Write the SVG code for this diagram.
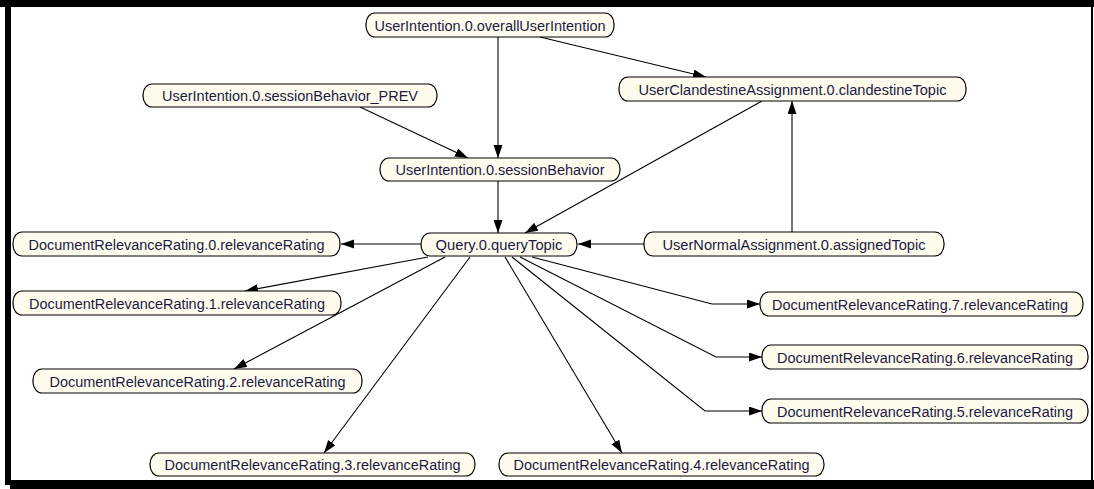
<svg xmlns="http://www.w3.org/2000/svg" width="1094" height="489" viewBox="0 0 1094 489">
<defs>
<style>
.n rect{fill:#fffcee;stroke:#000;stroke-width:1.2}
.n text{font-family:"Liberation Sans",Arial,sans-serif;font-size:15.5px;fill:#1a1a44;text-anchor:middle}
.e line,.e polyline{stroke:#000;stroke-width:1.1;fill:none;marker-end:url(#ah)}
</style>
<marker id="ah" markerUnits="userSpaceOnUse" markerWidth="14" markerHeight="10" refX="13" refY="4.5" orient="auto">
<path d="M0,0 L13,4.5 L0,9 z" fill="#000"/>
</marker>
</defs>
<rect x="0" y="0" width="1094" height="489" fill="#fff"/>
<rect x="0" y="0" width="1094" height="7" fill="#000"/>
<rect x="5" y="0" width="6" height="485" fill="#000"/>
<rect x="10" y="480" width="1084" height="9" fill="#000"/>
<rect x="1091" y="0" width="2" height="485" fill="#000"/>
<g class="e" id="connectors">
<line x1="498" y1="37" x2="498" y2="158"/>
<line x1="540" y1="37" x2="706" y2="77"/>
<line x1="360" y1="107" x2="468" y2="158"/>
<line x1="498" y1="181" x2="498" y2="233"/>
<line x1="762" y1="101" x2="525" y2="233"/>
<line x1="792" y1="232" x2="792" y2="101"/>
<line x1="644" y1="244" x2="578" y2="244"/>
<line x1="421" y1="244" x2="341" y2="244"/>
<line x1="428" y1="257" x2="245" y2="291"/>
<line x1="445" y1="257" x2="234" y2="369"/>
<line x1="470" y1="257" x2="324" y2="453"/>
<line x1="505" y1="257" x2="622" y2="453"/>
<polyline points="512,257 705,411 762,411"/>
<polyline points="520,257 716,357 762,357"/>
<polyline points="532,257 712,304 760,304"/>
</g>
<g class="n" id="overall"><rect x="366" y="13" width="248" height="24" rx="9" ry="11"/><text x="490" y="30.5" textLength="231" lengthAdjust="spacingAndGlyphs">UserIntention.0.overallUserIntention</text></g>
<g class="n" id="clandestine"><rect x="619" y="77" width="347" height="24" rx="9" ry="11"/><text x="792.5" y="94.5" textLength="308" lengthAdjust="spacingAndGlyphs">UserClandestineAssignment.0.clandestineTopic</text></g>
<g class="n" id="prev"><rect x="143" y="84" width="294" height="23" rx="9" ry="11"/><text x="290" y="101" textLength="256" lengthAdjust="spacingAndGlyphs">UserIntention.0.sessionBehavior_PREV</text></g>
<g class="n" id="session"><rect x="380" y="158" width="240" height="23" rx="9" ry="11"/><text x="500" y="175" textLength="209" lengthAdjust="spacingAndGlyphs">UserIntention.0.sessionBehavior</text></g>
<g class="n" id="query"><rect x="421" y="233" width="156" height="23" rx="9" ry="11"/><text x="499" y="250" textLength="127" lengthAdjust="spacingAndGlyphs">Query.0.queryTopic</text></g>
<g class="n" id="normal"><rect x="644" y="232" width="300" height="24" rx="9" ry="11"/><text x="794" y="249.5" textLength="263" lengthAdjust="spacingAndGlyphs">UserNormalAssignment.0.assignedTopic</text></g>
<g class="n" id="dr0"><rect x="13" y="232" width="327" height="24" rx="9" ry="11"/><text x="176.5" y="249.5" textLength="296" lengthAdjust="spacingAndGlyphs">DocumentRelevanceRating.0.relevanceRating</text></g>
<g class="n" id="dr1"><rect x="13" y="291" width="328" height="24" rx="9" ry="11"/><text x="177" y="308.5" textLength="296" lengthAdjust="spacingAndGlyphs">DocumentRelevanceRating.1.relevanceRating</text></g>
<g class="n" id="dr2"><rect x="33" y="369" width="329" height="24" rx="9" ry="11"/><text x="197.5" y="386.5" textLength="296" lengthAdjust="spacingAndGlyphs">DocumentRelevanceRating.2.relevanceRating</text></g>
<g class="n" id="dr3"><rect x="150" y="453" width="325" height="23" rx="9" ry="11"/><text x="312.5" y="470" textLength="296" lengthAdjust="spacingAndGlyphs">DocumentRelevanceRating.3.relevanceRating</text></g>
<g class="n" id="dr4"><rect x="499" y="453" width="325" height="23" rx="9" ry="11"/><text x="661.5" y="470" textLength="296" lengthAdjust="spacingAndGlyphs">DocumentRelevanceRating.4.relevanceRating</text></g>
<g class="n" id="dr5"><rect x="762" y="399" width="326" height="24" rx="9" ry="11"/><text x="925" y="416.5" textLength="296" lengthAdjust="spacingAndGlyphs">DocumentRelevanceRating.5.relevanceRating</text></g>
<g class="n" id="dr6"><rect x="762" y="345" width="326" height="24" rx="9" ry="11"/><text x="925" y="362.5" textLength="296" lengthAdjust="spacingAndGlyphs">DocumentRelevanceRating.6.relevanceRating</text></g>
<g class="n" id="dr7"><rect x="760" y="292" width="323" height="24" rx="9" ry="11"/><text x="920" y="309.5" textLength="296" lengthAdjust="spacingAndGlyphs">DocumentRelevanceRating.7.relevanceRating</text></g>
</svg>
